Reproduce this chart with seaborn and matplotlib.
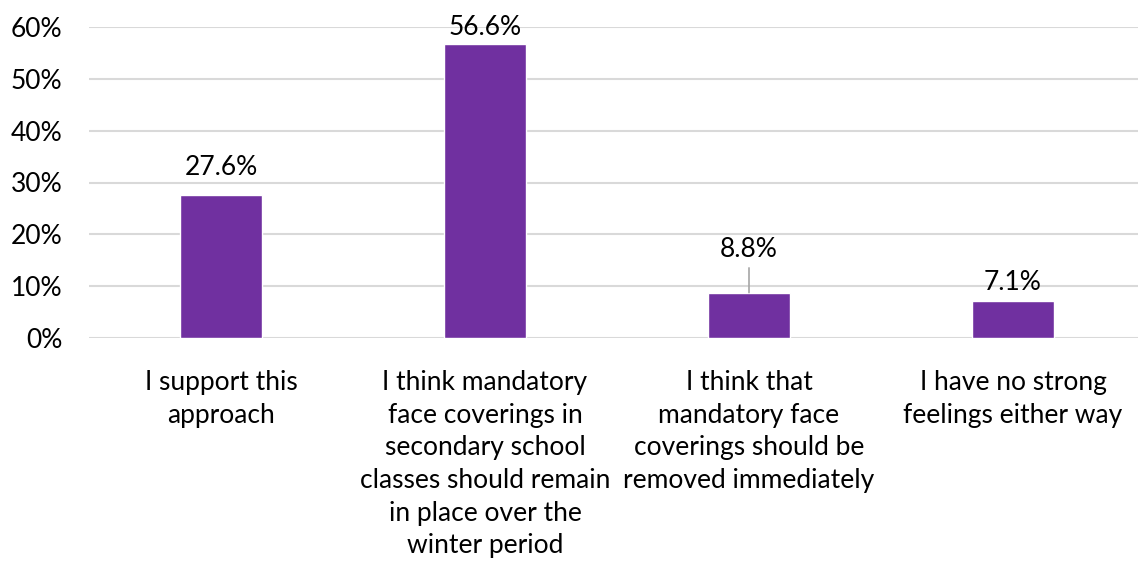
import matplotlib
matplotlib.use("Agg")
import matplotlib.pyplot as plt
import seaborn as sns
import pandas as pd

categories = [
    "I support this\napproach",
    "I think mandatory\nface coverings in\nsecondary school\nclasses should remain\nin place over the\nwinter period",
    "I think that\nmandatory face\ncoverings should be\nremoved immediately",
    "I have no strong\nfeelings either way",
]
values = [27.6, 56.6, 8.8, 7.1]
value_labels = ["27.6%", "56.6%", "8.8%", "7.1%"]
y_ticks = [0, 10, 20, 30, 40, 50, 60]
y_tick_labels = ["0%", "10%", "20%", "30%", "40%", "50%", "60%"]

sns.set_theme(style="white")
plt.rcParams["font.family"] = ["Lato", "DejaVu Sans"]

BAR_COLOR = "#7030A0"
GRID_COLOR = "#D9D9D9"
FS = 19

fig = plt.figure(figsize=(11.38, 5.67), dpi=100)
ax = fig.add_axes([89 / 1138, 228.7 / 567, 1 - 89 / 1138, (338.3 - 26.7) / 567])

df = pd.DataFrame({"category": categories, "value": values})
sns.barplot(data=df, x="category", y="value", color=BAR_COLOR, saturation=1,
            width=0.31, ax=ax, zorder=3)

ax.set_ylim(0, 60)
ax.set_xlim(-0.5, 3.5 - 7 / 264)
ax.set_yticks(y_ticks)
ax.set_yticklabels(y_tick_labels)
ax.yaxis.grid(True, color=GRID_COLOR, linewidth=1.5, zorder=0)
ax.set_axisbelow(True)
for s in ax.spines.values():
    s.set_visible(False)
ax.tick_params(axis="y", length=0, pad=19, labelsize=FS, labelcolor="black")
ax.tick_params(axis="x", length=0, pad=23, labelsize=FS, labelcolor="black")
ax.set_xlabel("")
ax.set_ylabel("")
for lbl in ax.get_xticklabels():
    lbl.set_linespacing(1.38)
    lbl.set_horizontalalignment("center")

# data labels: baseline offset (points) above each bar top; the third sits on a leader line
label_offsets = [14.4, 6.5, 25.9, 7.9]
for i, (v, txt, off) in enumerate(zip(values, value_labels, label_offsets)):
    ax.annotate(txt, xy=(i, v), xytext=(0, off), textcoords="offset points",
                ha="center", va="baseline", fontsize=FS, color="black", zorder=5)
ax.annotate("", xy=(2, values[2]), xytext=(0, 17.8), textcoords="offset points",
            arrowprops=dict(arrowstyle="-", color="#A6A6A6", lw=1.2,
                            shrinkA=0, shrinkB=0), zorder=4)

fig.savefig("out.png", dpi=100)
